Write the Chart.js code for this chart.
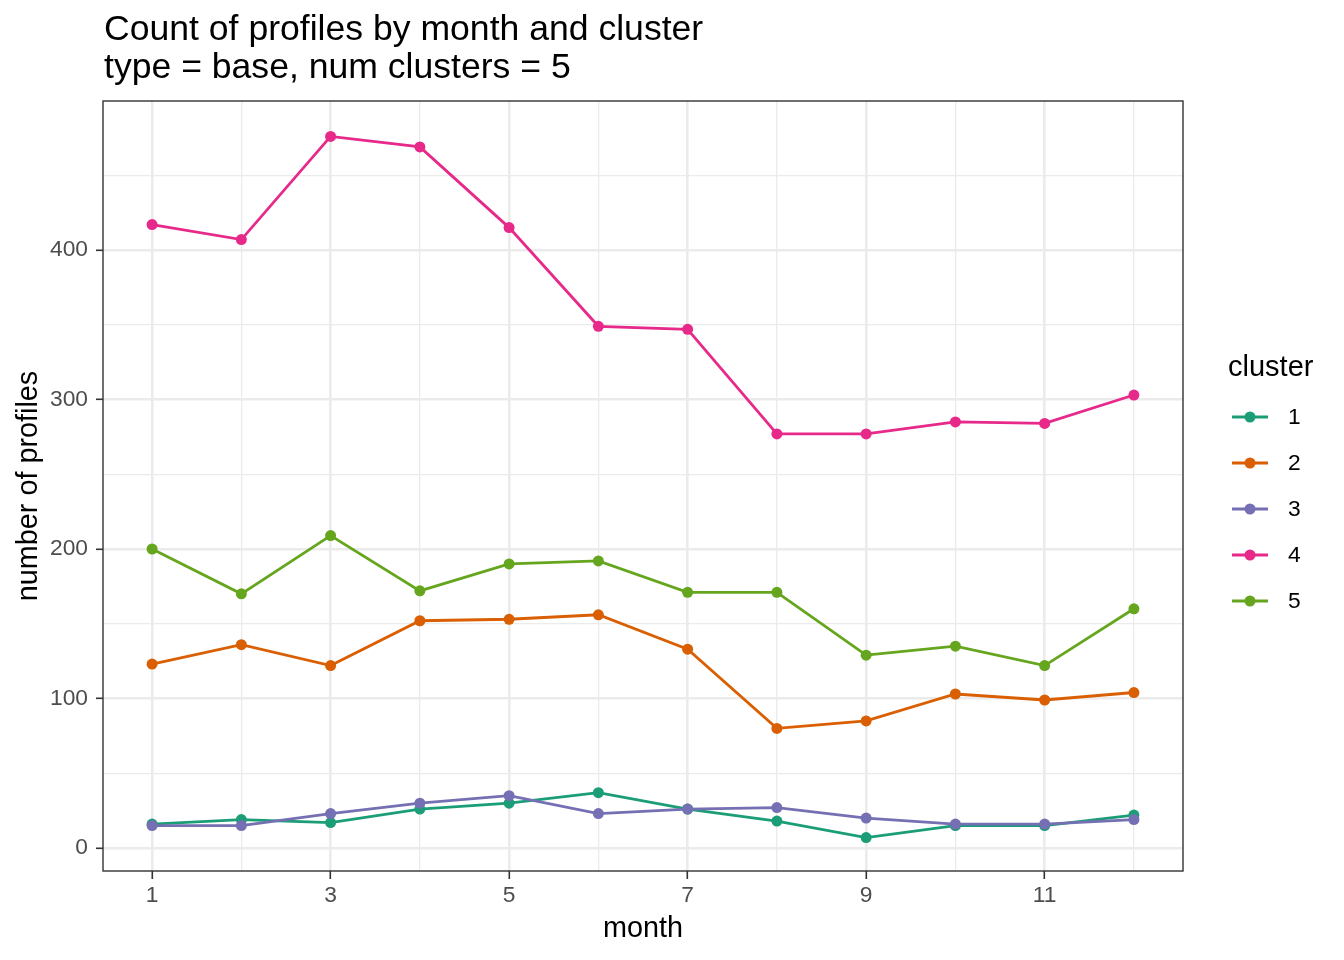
<!DOCTYPE html>
<html>
<head>
<meta charset="utf-8">
<script src="https://cdn.jsdelivr.net/npm/chart.js@4"></script>
<style>
  body { margin: 0; background: #fff; }
  #chart_div { display: block; }
</style>
</head>
<body>
<canvas id="chart_div" width="1344" height="960"></canvas>
<script>
// ===========================================================================
// data

const months = [1, 2, 3, 4, 5, 6, 7, 8, 9, 10, 11, 12];
const clusterNames = ["1", "2", "3", "4", "5"];
const cluster1 = [16, 19, 17, 26, 30, 37, 26, 18, 7, 15, 15, 22];
const cluster2 = [123, 136, 122, 152, 153, 156, 133, 80, 85, 103, 99, 104];
const cluster3 = [15, 15, 23, 30, 35, 23, 26, 27, 20, 16, 16, 19];
const cluster4 = [417, 407, 476, 469, 415, 349, 347, 277, 277, 285, 284, 303];
const cluster5 = [200, 170, 209, 172, 190, 192, 171, 171, 129, 135, 122, 160];
const xTicks = [1, 2, 3, 4, 5, 6, 7, 8, 9, 10, 11, 12];
const yTicks = [0, 50, 100, 150, 200, 250, 300, 350, 400, 450];

const titleLines = ["Count of profiles by month and cluster", "type = base, num clusters = 5"];

// Dark2 palette
const clusterColors = ["#1B9E77", "#D95F02", "#7570B3", "#E7298A", "#66A61E"];
const allSeries = [cluster1, cluster2, cluster3, cluster4, cluster5];

const FONT = '"Liberation Sans", Arial, Helvetica, sans-serif';

//===========================================================================

function toPoints(values) {
  return values.map((v, i) => ({ x: months[i], y: v }));
}

// lines first, then points on top (like geom_line + geom_point)
const lineSets = allSeries.map((vals, i) => ({
  label: clusterNames[i],
  data: toPoints(vals),
  borderColor: clusterColors[i],
  backgroundColor: clusterColors[i],
  borderWidth: 2.8,
  pointRadius: 0,
  fill: false,
  tension: 0,
  order: 20 - i
}));
const pointSets = allSeries.map((vals, i) => ({
  label: clusterNames[i] + "_pt",
  data: toPoints(vals),
  borderColor: clusterColors[i],
  backgroundColor: clusterColors[i],
  showLine: false,
  pointRadius: 5.5,
  pointBorderWidth: 0,
  order: 10 - i
}));

//===========================================================================

const ggExtras = {
  id: "ggExtras",
  afterDraw(chart) {
    const ctx = chart.ctx;
    const a = chart.chartArea;
    ctx.save();

    // panel border
    ctx.strokeStyle = "#333333";
    ctx.lineWidth = 1.4;
    ctx.strokeRect(a.left, a.top, a.right - a.left, a.bottom - a.top);

    // title
    ctx.fillStyle = "#000";
    ctx.font = "35.6px " + FONT;
    ctx.textAlign = "left";
    ctx.textBaseline = "alphabetic";
    ctx.fillText(titleLines[0], 104, 40);
    ctx.fillText(titleLines[1], 104, 78);

    // legend
    ctx.font = "29px " + FONT;
    ctx.fillText("cluster", 1228, 376);
    ctx.font = "22.8px " + FONT;
    ctx.textBaseline = "middle";
    for (let i = 0; i < clusterNames.length; i++) {
      const y = 417 + i * 46;
      ctx.strokeStyle = clusterColors[i];
      ctx.lineWidth = 2.8;
      ctx.beginPath();
      ctx.moveTo(1232, y);
      ctx.lineTo(1268, y);
      ctx.stroke();
      ctx.fillStyle = clusterColors[i];
      ctx.beginPath();
      ctx.arc(1250, y, 5.5, 0, Math.PI * 2);
      ctx.fill();
      ctx.fillStyle = "#000";
      ctx.fillText(clusterNames[i], 1288, y + 1);
    }
    ctx.restore();
  }
};

function gridWidth(isMajor) { return isMajor ? 2.6 : 1.3; }

const chartConfig = {
  type: "line",
  data: { datasets: [...lineSets, ...pointSets] },
  options: {
    responsive: false,
    animation: false,
    devicePixelRatio: 1,
    layout: { padding: { top: 101, right: 161, left: 0, bottom: 0 } },
    plugins: {
      legend: { display: false },
      tooltip: { enabled: false },
      title: { display: false }
    },
    scales: {
      x: {
        type: "linear",
        min: 0.45,
        max: 12.55,
        afterBuildTicks: (scale) => { scale.ticks = xTicks.map(v => ({ value: v })); },
        afterFit: (scale) => { scale.height = 89; },
        ticks: {
          autoSkip: false,
          maxRotation: 0,
          padding: 3,
          color: "#4D4D4D",
          font: { family: FONT, size: 22.8 },
          callback: (v) => (v % 2 === 1 ? String(v) : "")
        },
        grid: {
          color: "#EBEBEB",
          lineWidth: (c) => gridWidth(c.tick && c.tick.value % 2 === 1),
          tickColor: (c) => (c.tick && c.tick.value % 2 === 1 ? "#333333" : "rgba(0,0,0,0)"),
          tickLength: 8,
          tickWidth: 1.6
        },
        border: { display: false },
        title: {
          display: true,
          text: "month",
          color: "#000",
          font: { family: FONT, size: 28.8 },
          padding: { top: 0, bottom: 14 }
        }
      },
      y: {
        type: "linear",
        min: -15.4,
        max: 499.7,
        afterBuildTicks: (scale) => { scale.ticks = yTicks.map(v => ({ value: v })); },
        afterFit: (scale) => { scale.width = 103; },
        ticks: {
          padding: 8,
          color: "#4D4D4D",
          font: { family: FONT, size: 22.8 },
          callback: (v) => (v % 100 === 0 ? String(v) : "")
        },
        grid: {
          color: "#EBEBEB",
          lineWidth: (c) => gridWidth(c.tick && c.tick.value % 100 === 0),
          tickColor: (c) => (c.tick && c.tick.value % 100 === 0 ? "#333333" : "rgba(0,0,0,0)"),
          tickLength: 7,
          tickWidth: 1.6
        },
        border: { display: false },
        title: {
          display: true,
          text: "number of profiles",
          color: "#000",
          font: { family: FONT, size: 28.8 },
          padding: { top: 12, bottom: 0 }
        }
      }
    }
  },
  plugins: [ggExtras]
};

window.mainChart = new Chart(document.getElementById("chart_div").getContext("2d"), chartConfig);
</script>
</body>
</html>
